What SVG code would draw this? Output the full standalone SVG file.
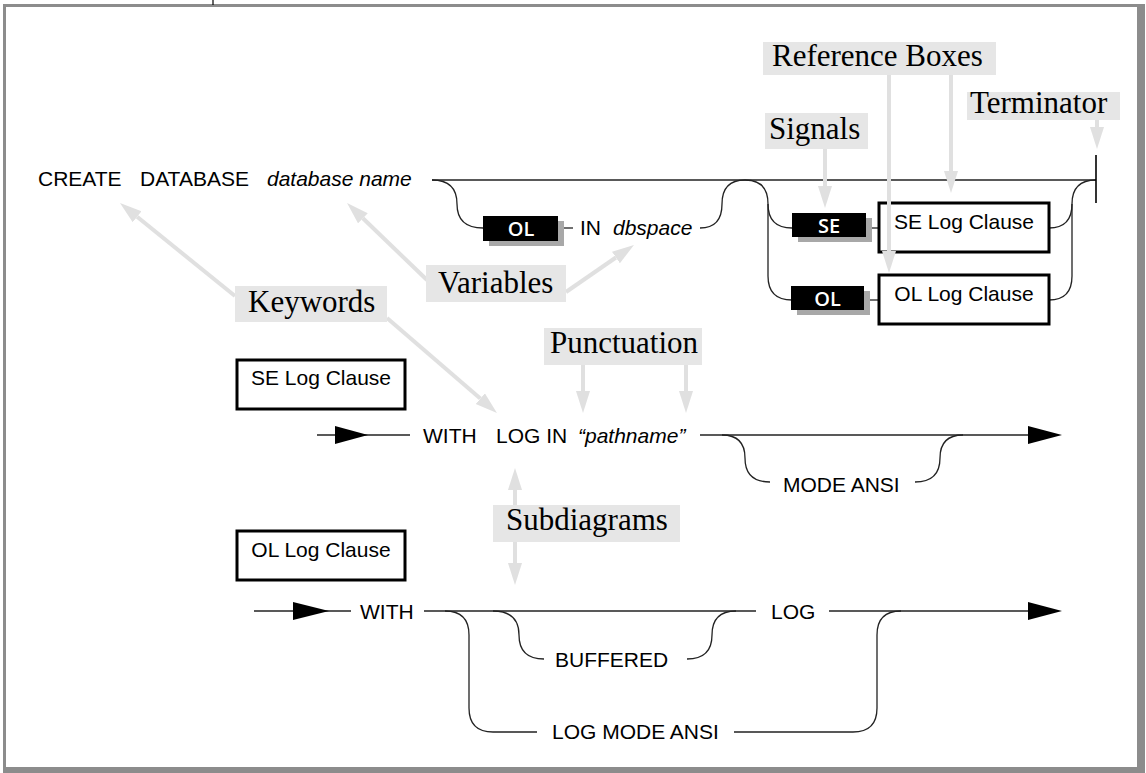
<svg xmlns="http://www.w3.org/2000/svg" width="1146" height="773" viewBox="0 0 1146 773">
<defs>
<style>
.frame{fill:#8c8c8c}
.ln{fill:none;stroke:#222;stroke-width:1.3}
.t{font-family:"Liberation Sans",Arial,sans-serif;font-size:21px;fill:#000}
.i{font-style:italic}
.sig{fill:#000}
.shd{fill:#a8a8a8}
.st{font-family:"Open Sans","DejaVu Sans",sans-serif;font-weight:600;font-size:20px;fill:#fff;text-anchor:middle}
.ref{fill:#fff;stroke:#000;stroke-width:3}
.rt{font-family:"Liberation Sans",Arial,sans-serif;font-size:21px;fill:#000;text-anchor:middle}
.lbg{fill:#e6e6e6}
.lt{font-family:"Liberation Serif","Times New Roman",serif;font-size:31px;fill:#000}
.an{fill:none;stroke:#e0e0e0;stroke-width:4}
.bh{fill:#000}
</style>
<marker id="ah" markerUnits="userSpaceOnUse" markerWidth="24" markerHeight="16" refX="0" refY="7" orient="auto"><path d="M0,0 L22,7 L0,14 z" fill="#e0e0e0"/></marker>
</defs>
<rect width="1146" height="773" fill="#fff"/>
<g id="frame">
<rect class="frame" x="3" y="4" width="1142" height="3"/>
<rect class="frame" x="3" y="4" width="3" height="769"/>
<rect class="frame" x="1137" y="4" width="8" height="769"/>
<rect class="frame" x="3" y="767" width="1142" height="6"/>
<line x1="213" y1="0" x2="213" y2="5" stroke="#000" stroke-width="1.2"/>
</g>
<g id="connectors">
<path class="ln" d="M432,180 H1096"/>
<path class="ln" d="M432,180 Q457,180 457,204 Q457,228 483,228"/>
<path class="ln" d="M558,228 H573"/>
<path class="ln" d="M700,228 Q722,228 722,204 Q722,180 745,180"/>
<path class="ln" d="M745,180 Q768,180 768,204 Q768,228 792,228"/>
<path class="ln" d="M768,204 V276 Q768,300 792,300"/>
<path class="ln" d="M866,228 H879"/>
<path class="ln" d="M864,300 H879"/>
<path class="ln" d="M1049,228 Q1072,228 1072,204 Q1072,180 1096,180"/>
<path class="ln" d="M1049,300 Q1072,300 1072,276 V204"/>
<path fill="none" stroke="#000" stroke-width="1.6" d="M1096,155 V203"/>
<path class="ln" d="M317,435 H410"/>
<polygon class="bh" points="335,426 368,435 335,444"/>
<path class="ln" d="M700,435 H1028"/>
<polygon class="bh" points="1028,426 1062,435 1028,444"/>
<path class="ln" d="M722,435 Q745,435 745,458 Q745,482 770,482"/>
<path class="ln" d="M915,482 Q940,482 940,458 Q940,435 963,435"/>
<path class="ln" d="M254,611 H351"/>
<polygon class="bh" points="293,602 329,611 293,620"/>
<path class="ln" d="M424,611 H756"/>
<path class="ln" d="M829,611 H1028"/>
<polygon class="bh" points="1028,602 1062,611 1028,620"/>
<path class="ln" d="M445,611 Q469,611 469,635 V708 Q469,732 493,732 H537"/>
<path class="ln" d="M734,732 H853 Q877,732 877,708 V635 Q877,611 901,611"/>
<path class="ln" d="M493,611 Q519,611 519,635 Q519,659 544,659"/>
<path class="ln" d="M687,659 Q712,659 712,635 Q712,611 736,611"/>
</g>
<g id="create-database">
<text class="t" x="38" y="186">CREATE</text>
<text class="t" x="140" y="186">DATABASE</text>
<text class="t i" x="267" y="186">database name</text>
</g>
<g id="signal-ol-1">
<rect class="shd" x="489" y="221" width="75" height="25"/>
<rect class="sig" x="483" y="216" width="75" height="25"/>
<text class="st" x="521" y="236">OL</text>
</g>
<g id="in-dbspace">
<text class="t" x="580" y="235">IN</text>
<text class="t i" x="613" y="235">dbspace</text>
</g>
<g id="signal-se">
<rect class="shd" x="798" y="218" width="74" height="24"/>
<rect class="sig" x="792" y="213" width="74" height="24"/>
<text class="st" x="829" y="233">SE</text>
</g>
<g id="signal-ol-2">
<rect class="shd" x="797" y="291" width="73" height="24"/>
<rect class="sig" x="791" y="286" width="73" height="24"/>
<text class="st" x="827.5" y="306">OL</text>
</g>
<g id="ref-se">
<rect class="ref" x="879" y="203" width="170" height="49"/>
<text class="rt" x="964" y="229">SE Log Clause</text>
</g>
<g id="ref-ol">
<rect class="ref" x="879" y="275" width="170" height="49"/>
<text class="rt" x="964" y="301">OL Log Clause</text>
</g>
<g id="sub-se-title">
<rect class="ref" x="237" y="360" width="168" height="49"/>
<text class="rt" x="321" y="385">SE Log Clause</text>
</g>
<g id="se-clause">
<text class="t" x="423" y="443">WITH</text>
<text class="t" x="496" y="443">LOG IN</text>
<text class="t i" x="578" y="443">“pathname”</text>
<text class="t" x="783" y="492">MODE ANSI</text>
</g>
<g id="sub-ol-title">
<rect class="ref" x="237" y="531" width="168" height="49"/>
<text class="rt" x="321" y="557">OL Log Clause</text>
</g>
<g id="ol-clause">
<text class="t" x="360" y="619">WITH</text>
<text class="t" x="771" y="619">LOG</text>
<text class="t" x="555" y="667">BUFFERED</text>
<text class="t" x="552" y="739">LOG MODE ANSI</text>
</g>
<g id="annotation-arrows">
<path class="an" marker-end="url(#ah)" d="M235,296 L137.1,216.8"/>
<path class="an" marker-end="url(#ah)" d="M387,318 L480.3,398.6"/>
<path class="an" marker-end="url(#ah)" d="M427,280 L362.9,218.3"/>
<path class="an" marker-end="url(#ah)" d="M566,292 L615.9,257.5"/>
<path class="an" marker-end="url(#ah)" d="M583,365 V391"/>
<path class="an" marker-end="url(#ah)" d="M686,365 V391"/>
<path class="an" marker-end="url(#ah)" d="M825,149 V186"/>
<path class="an" marker-end="url(#ah)" d="M889,75 V251"/>
<path class="an" marker-end="url(#ah)" d="M951,75 V171"/>
<path class="an" marker-end="url(#ah)" d="M1097,120 V127"/>
<path class="an" marker-end="url(#ah)" d="M515,505 V490"/>
<path class="an" marker-end="url(#ah)" d="M515,542 V563"/>
</g>
<g id="label-reference-boxes">
<rect class="lbg" x="763" y="42" width="233" height="33"/>
<text class="lt" x="772" y="66">Reference Boxes</text>
</g>
<g id="label-terminator">
<rect class="lbg" x="967" y="92" width="153" height="28"/>
<text class="lt" x="970" y="113">Terminator</text>
</g>
<g id="label-signals">
<rect class="lbg" x="765" y="113" width="103" height="36"/>
<text class="lt" x="769" y="139">Signals</text>
</g>
<g id="label-variables">
<rect class="lbg" x="426" y="265" width="140" height="37"/>
<text class="lt" x="438" y="293">Variables</text>
</g>
<g id="label-keywords">
<rect class="lbg" x="235" y="286" width="152" height="36"/>
<text class="lt" x="248" y="312">Keywords</text>
</g>
<g id="label-punctuation">
<rect class="lbg" x="544" y="328" width="158" height="37"/>
<text class="lt" x="550" y="353">Punctuation</text>
</g>
<g id="label-subdiagrams">
<rect class="lbg" x="493" y="505" width="187" height="37"/>
<text class="lt" x="506" y="530">Subdiagrams</text>
</g>
</svg>
